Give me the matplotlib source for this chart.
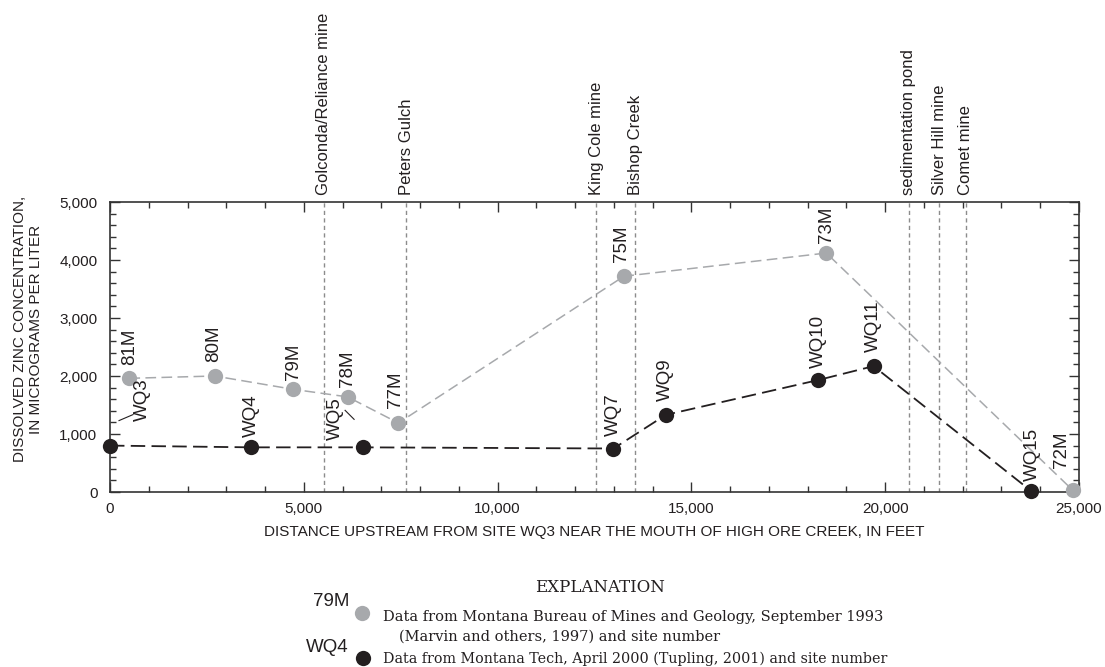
import matplotlib
matplotlib.use("Agg")
import matplotlib.pyplot as plt
from matplotlib.lines import Line2D
from matplotlib.ticker import MultipleLocator, FuncFormatter

# Montana Bureau of Mines and Geology, September 1993
mbmg_sites = ["81M", "80M", "79M", "78M", "77M", "75M", "73M", "72M"]
mbmg_dist = [500, 2700, 4730, 6130, 7440, 13260, 18480, 24840]
mbmg_zinc = [1960, 2000, 1770, 1640, 1190, 3720, 4120, 30]

# Montana Tech, April 2000
tech_sites = ["WQ3", "WQ4", "WQ5", "WQ7", "WQ9", "WQ10", "WQ11", "WQ15"]
tech_dist = [0, 3640, 6530, 12990, 14340, 18270, 19700, 23760]
tech_zinc = [800, 770, 770, 750, 1330, 1930, 2170, 20]

# Landmarks along the creek
feature_names = ["Golconda/Reliance mine", "Peters Gulch", "King Cole mine",
                 "Bishop Creek", "sedimentation pond", "Silver Hill mine",
                 "Comet mine"]
feature_dist = [5520, 7640, 12540, 13550, 20610, 21400, 22080]

W, H = 1105, 667
GRAY = "#a7a9ac"
BLACK = "#231f20"
SANS = ["Liberation Sans", "DejaVu Sans"]
SERIF = ["DejaVu Serif"]

plt.rcParams["font.family"] = SANS
plt.rcParams["text.color"] = BLACK

fig = plt.figure(figsize=(W / 100, H / 100), dpi=100)
ax = fig.add_axes([110 / W, 1 - 492 / H, (1079 - 110) / W, (492 - 202) / H])

ax.set_xlim(0, 25000)
ax.set_ylim(0, 5000)

# landmark lines and their labels above the frame
for name, d in zip(feature_names, feature_dist):
    ax.axvline(d, color="#8c8c8c", lw=1.0, ls=(0, (3.0, 2.4)), zorder=1)
    ax.annotate(name, xy=(d, 1.0), xycoords=("data", "axes fraction"),
                xytext=(0, 7), textcoords="offset pixels",
                rotation=90, ha="center", va="bottom", fontsize=12,
                color=BLACK, annotation_clip=False)

# series
ax.plot(mbmg_dist, mbmg_zinc, color=GRAY, lw=1.1, ls=(0, (7, 3.5)),
        zorder=2, clip_on=False)
ax.plot(tech_dist, tech_zinc, color=BLACK, lw=1.3, ls=(0, (8, 3.5)),
        zorder=2, clip_on=False)
ax.plot(mbmg_dist, mbmg_zinc, ls="none", marker="o", ms=11, mfc=GRAY,
        mec="none", zorder=4, clip_on=False)
ax.plot(tech_dist, tech_zinc, ls="none", marker="o", ms=11, mfc=BLACK,
        mec="none", zorder=4, clip_on=False)

# site-number label offsets in pixels (dx, dy)
label_offsets = {
    "81M": (0, 13), "80M": (-1, 14), "79M": (0, 9), "78M": (0, 10),
    "77M": (-3, 15), "75M": (-2, 14), "73M": (0, 10), "72M": (-11, 22),
    "WQ3": (32, 25), "WQ4": (0, 10), "WQ5": (-28, 7), "WQ7": (0, 12),
    "WQ9": (0, 14), "WQ10": (0, 12), "WQ11": (0, 14), "WQ15": (1, 10),
}
for sites, xs, ys in ((mbmg_sites, mbmg_dist, mbmg_zinc),
                      (tech_sites, tech_dist, tech_zinc)):
    for s, x, y in zip(sites, xs, ys):
        dx, dy = label_offsets[s]
        ax.annotate(s, xy=(x, y), xytext=(dx, dy), textcoords="offset pixels",
                    rotation=90, ha="center", va="bottom", fontsize=13.5,
                    color=BLACK, zorder=5, annotation_clip=False)

# leader lines for offset labels (pixel offsets from the point)
for s, (p0, p1) in {"WQ3": ((9, 25), (23, 31)),
                    "WQ5": ((-18, 37), (-9, 28))}.items():
    i = tech_sites.index(s)
    x0, y0 = ax.transData.transform((tech_dist[i], tech_zinc[i]))
    xs = [(x0 + p0[0]) / W, (x0 + p1[0]) / W]
    ys = [(y0 + p0[1]) / H, (y0 + p1[1]) / H]
    fig.add_artist(Line2D(xs, ys, color=BLACK, lw=0.8, transform=fig.transFigure))

# axes styling
for sp in ax.spines.values():
    sp.set_color("#333333")
    sp.set_linewidth(1.2)
ax.xaxis.set_major_locator(MultipleLocator(5000))
ax.xaxis.set_minor_locator(MultipleLocator(1000))
ax.yaxis.set_major_locator(MultipleLocator(1000))
ax.yaxis.set_minor_locator(MultipleLocator(200))
fmt = FuncFormatter(lambda v, p: f"{int(v):,}")
ax.xaxis.set_major_formatter(fmt)
ax.yaxis.set_major_formatter(fmt)
ax.tick_params(which="both", direction="in", top=True, right=True,
               color="#333333", width=1.0, labelsize=11, labelcolor=BLACK)
ax.tick_params(which="major", length=7)
ax.tick_params(which="minor", length=4)
ax.tick_params(axis="x", pad=7)
ax.tick_params(axis="y", pad=9)

ax.set_xlabel("DISTANCE UPSTREAM FROM SITE WQ3 NEAR THE MOUTH OF HIGH ORE CREEK, IN FEET",
              fontsize=11, labelpad=7, color=BLACK)
fig.text(28 / W, 1 - 329 / H,
         "DISSOLVED ZINC CONCENTRATION,\nIN MICROGRAMS PER LITER",
         rotation=90, ha="center", va="center", multialignment="center",
         fontsize=11, linespacing=1.25, color=BLACK)

# explanation block
def fx(x):
    return x / W


def fy(y):
    return 1 - y / H


fig.text(fx(600), fy(588), "EXPLANATION", ha="center", va="center",
         fontsize=12, family=SERIF, color=BLACK)
fig.text(fx(349), fy(601), "79M", ha="right", va="center", fontsize=13.5,
         color=BLACK)
fig.add_artist(Line2D([fx(362)], [fy(613)], marker="o", ms=11, mfc=GRAY,
                      mec="none", transform=fig.transFigure))
fig.text(fx(383), fy(617),
         "Data from Montana Bureau of Mines and Geology, September 1993",
         ha="left", va="center", fontsize=10.5, family=SERIF, color=BLACK)
fig.text(fx(399), fy(637), "(Marvin and others, 1997) and site number",
         ha="left", va="center", fontsize=10.5, family=SERIF, color=BLACK)
fig.text(fx(349), fy(648), "WQ4", ha="right", va="center", fontsize=13.5,
         color=BLACK)
fig.add_artist(Line2D([fx(363)], [fy(658)], marker="o", ms=11, mfc=BLACK,
                      mec="none", transform=fig.transFigure))
fig.text(fx(383), fy(659),
         "Data from Montana Tech, April 2000 (Tupling, 2001) and site number",
         ha="left", va="center", fontsize=10.3, family=SERIF, color=BLACK)

fig.savefig("out.png", dpi=100)
